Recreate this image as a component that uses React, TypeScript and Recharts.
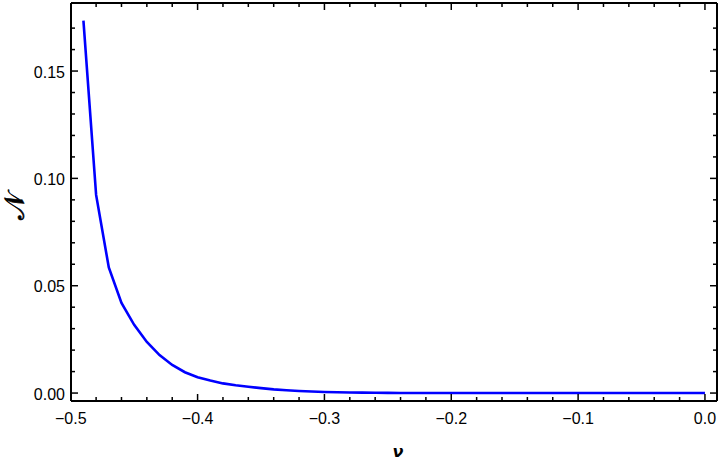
import React from 'react';
import { LineChart, Line, XAxis, YAxis } from 'recharts';

const nu = [
  -0.49, -0.48, -0.47, -0.46, -0.45, -0.44, -0.43, -0.42, -0.41, -0.4,
  -0.39, -0.38, -0.37, -0.36, -0.35, -0.34, -0.33, -0.32, -0.31, -0.3,
  -0.29, -0.28, -0.27, -0.26, -0.25, -0.24, -0.23, -0.22, -0.21, -0.2,
  -0.19, -0.18, -0.17, -0.16, -0.15, -0.14, -0.13, -0.12, -0.11, -0.1,
  -0.09, -0.08, -0.07, -0.06, -0.05, -0.04, -0.03, -0.02, -0.01, 0.0,
];
const Nvals = [
  0.1735, 0.0923, 0.0585, 0.042, 0.0318, 0.0238, 0.0177, 0.0131, 0.0097, 0.0074,
  0.0058, 0.0045, 0.0036, 0.0029, 0.0023, 0.0017, 0.0013, 0.00095, 0.0007, 0.0005,
  0.00036, 0.00026, 0.00018, 0.00012, 0.00008, 0.00005, 0.00003, 0.00002, 0.00001, 0,
  0, 0, 0, 0, 0, 0, 0, 0, 0, 0,
  0, 0, 0, 0, 0, 0, 0, 0, 0, 0,
];

const xTicks = [
  -0.5, -0.48, -0.46, -0.44, -0.42, -0.4, -0.38, -0.36, -0.34, -0.32, -0.3,
  -0.28, -0.26, -0.24, -0.22, -0.2, -0.18, -0.16, -0.14, -0.12, -0.1,
  -0.08, -0.06, -0.04, -0.02, 0,
];
const xMajor = [-0.5, -0.4, -0.3, -0.2, -0.1, 0];
const xMajorLabels = ['\u22120.5', '\u22120.4', '\u22120.3', '\u22120.2', '\u22120.1', '0.0'];

const yTicks = [
  0, 0.01, 0.02, 0.03, 0.04, 0.05, 0.06, 0.07, 0.08, 0.09,
  0.1, 0.11, 0.12, 0.13, 0.14, 0.15, 0.16, 0.17,
];
const yMajor = [0, 0.05, 0.1, 0.15];
const yMajorLabels = ['0.00', '0.05', '0.10', '0.15'];

const xDomain = [-0.4998, 0.0095];
const yDomain = [-0.0037, 0.1817];

const data = nu.map((v, i) => ({ nu: v, N: Nvals[i] }));

const FONT = '"Liberation Sans", Arial, sans-serif';
const MAJOR = 7;
const MINOR = 4;

const majorIndex = (list: number[], v: number) =>
  list.findIndex((m) => Math.abs(m - v) < 1e-9);

const BottomTick = (props: any) => {
  const { x, y, payload } = props;
  const idx = majorIndex(xMajor, payload.value);
  const len = idx >= 0 ? MAJOR : MINOR;
  return (
    <g>
      <line x1={x} y1={y} x2={x} y2={y - len} stroke="#000" strokeWidth={1.5} />
      {idx >= 0 && (
        <text x={x} y={y + 17} textAnchor="middle" dominantBaseline="central"
          fontFamily={FONT} fontSize={16} fill="#000">
          {xMajorLabels[idx]}
        </text>
      )}
    </g>
  );
};

const TopTick = (props: any) => {
  const { x, y, payload } = props;
  const idx = majorIndex(xMajor, payload.value);
  const len = idx >= 0 ? MAJOR : MINOR;
  return <line x1={x} y1={y} x2={x} y2={y + len} stroke="#000" strokeWidth={1.5} />;
};

const LeftTick = (props: any) => {
  const { x, y, payload } = props;
  const idx = majorIndex(yMajor, payload.value);
  const len = idx >= 0 ? MAJOR : MINOR;
  return (
    <g>
      <line x1={x} y1={y} x2={x + len} y2={y} stroke="#000" strokeWidth={1.5} />
      {idx >= 0 && (
        <text x={x - 6} y={y + 1} textAnchor="end" dominantBaseline="central"
          fontFamily={FONT} fontSize={16} fill="#000">
          {yMajorLabels[idx]}
        </text>
      )}
    </g>
  );
};

const RightTick = (props: any) => {
  const { x, y, payload } = props;
  const idx = majorIndex(yMajor, payload.value);
  const len = idx >= 0 ? MAJOR : MINOR;
  return <line x1={x} y1={y} x2={x - len} y2={y} stroke="#000" strokeWidth={1.5} />;
};

const XLabel = (props: any) => {
  const { viewBox } = props;
  return (
    <text x={viewBox.x + viewBox.width / 2 + 4} y={viewBox.y + 56} textAnchor="middle"
      fontFamily='"DejaVu Sans", sans-serif' fontStyle="italic"
      fontWeight="bold" fontSize={16} fill="#000">
      {'\u03bd'}
    </text>
  );
};

const YLabel = (props: any) => {
  const { viewBox } = props;
  const cx = viewBox.x + 15;
  const cy = viewBox.y + viewBox.height / 2 + 4;
  return (
    <text x={cx} y={cy} textAnchor="middle" dominantBaseline="central"
      transform={`rotate(-90, ${cx}, ${cy})`}
      fontFamily='"DejaVu Sans", "Noto Sans", serif' fontSize={28} fill="#000"
      stroke="#000" strokeWidth={0.6}>
      {'\ud835\udca9'}
    </text>
  );
};

export default function App() {
  return (
    <div style={{ position: 'absolute', left: 0, top: 0, width: 720, height: 462, background: '#fff' }}>
      <LineChart width={720} height={462} data={data}
        margin={{ top: 3, right: 3, bottom: 31, left: 0 }}>
        <XAxis dataKey="nu" type="number" domain={xDomain} allowDataOverflow
          ticks={xTicks} interval={0} tickSize={0} tickMargin={0} tickLine={false}
          axisLine={{ stroke: '#000', strokeWidth: 2 }} height={30} tick={BottomTick}
          label={<XLabel />} />
        <XAxis xAxisId="top" dataKey="nu" type="number" orientation="top" domain={xDomain}
          allowDataOverflow ticks={xTicks} interval={0} tickSize={0} tickMargin={0}
          tickLine={false} axisLine={{ stroke: '#000', strokeWidth: 2 }} height={0.001}
          tick={TopTick} />
        <YAxis type="number" domain={yDomain} allowDataOverflow ticks={yTicks} interval={0}
          tickSize={0} tickMargin={0} tickLine={false} width={71}
          axisLine={{ stroke: '#000', strokeWidth: 2 }} tick={LeftTick} label={<YLabel />} />
        <YAxis yAxisId="right" type="number" orientation="right" domain={yDomain}
          allowDataOverflow ticks={yTicks} interval={0} tickSize={0} tickMargin={0}
          tickLine={false} width={0.001} axisLine={{ stroke: '#000', strokeWidth: 2 }}
          tick={RightTick} />
        <Line type="linear" dataKey="N" stroke="#0000ff" strokeWidth={2.6} dot={false}
          isAnimationActive={false} />
      </LineChart>
    </div>
  );
}
